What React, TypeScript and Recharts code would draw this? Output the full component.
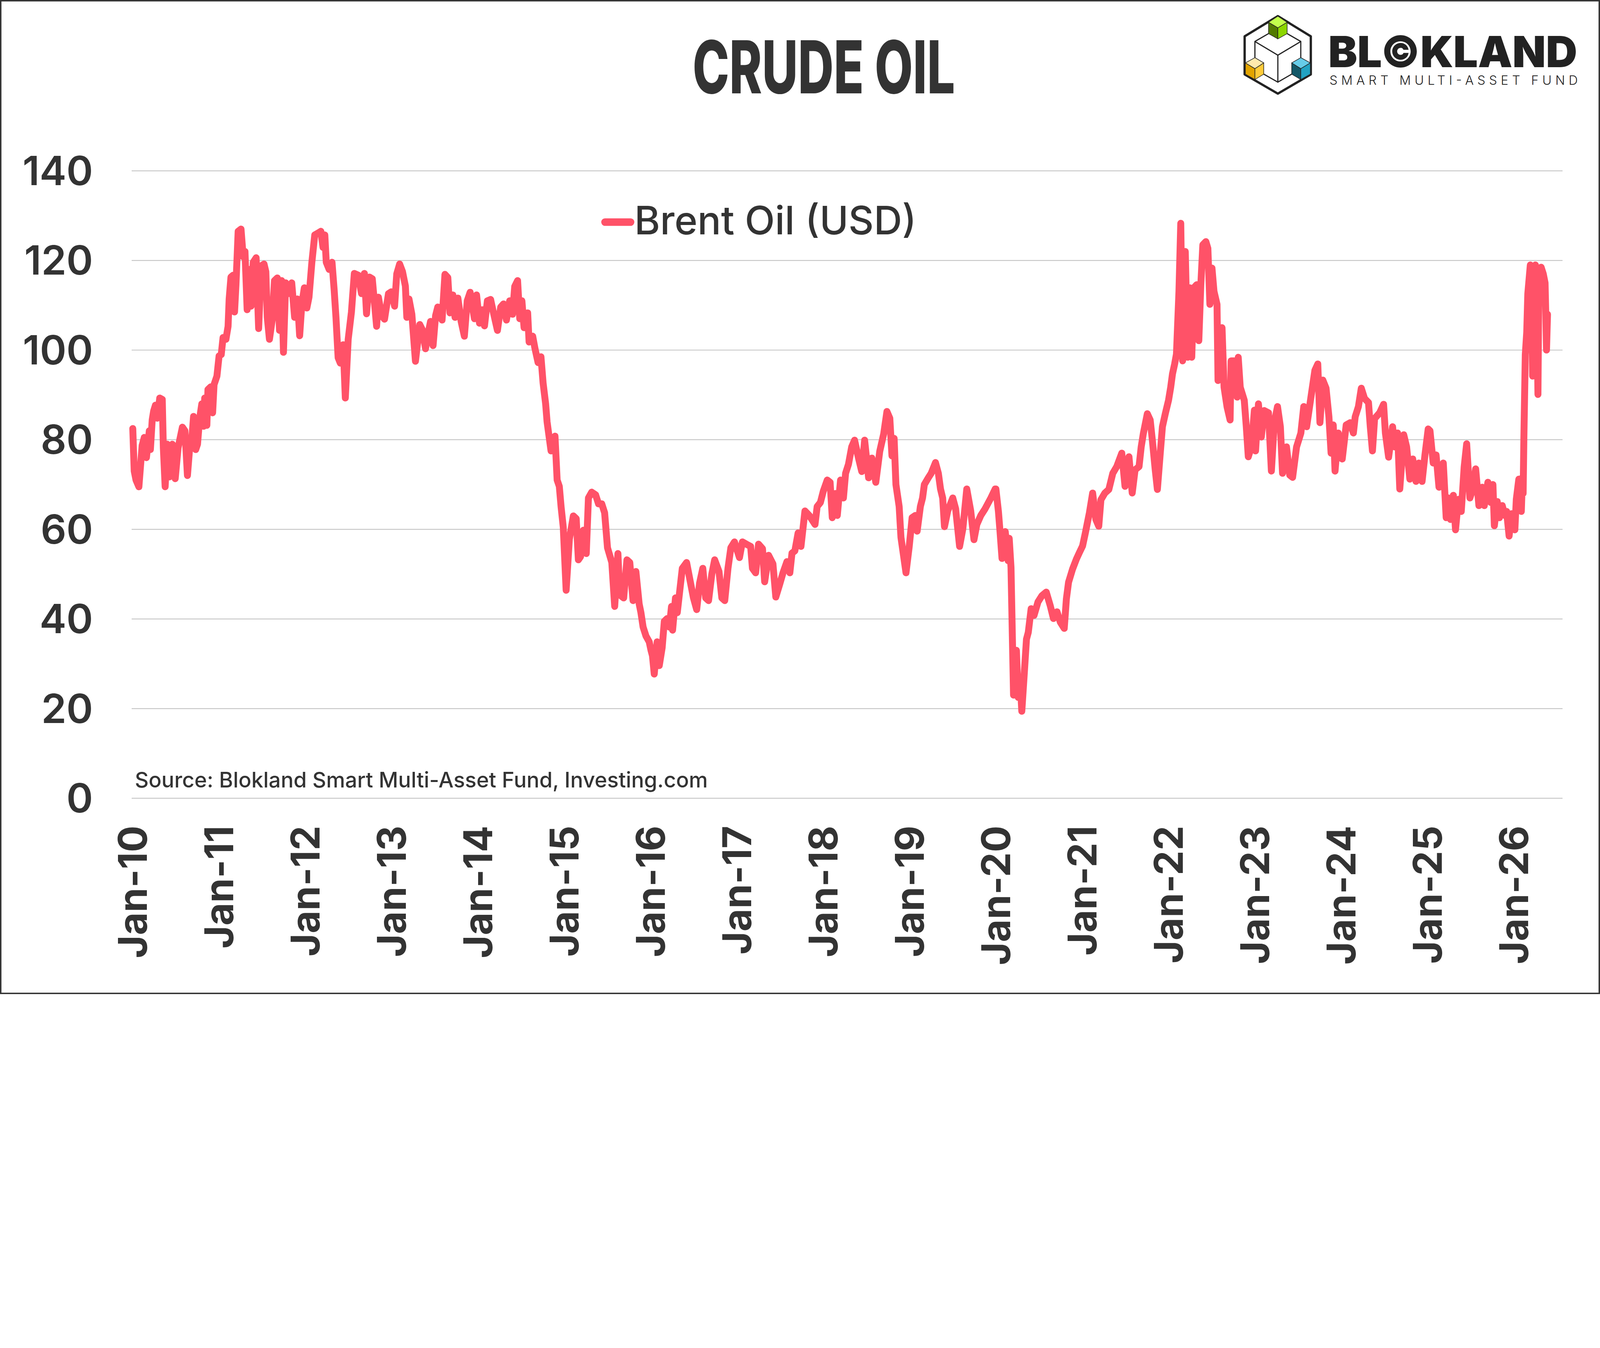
import React from 'react';
import { LineChart, Line, XAxis, YAxis, CartesianGrid, Legend } from 'recharts';

const W = 5554;
const H = 3451;
const FONT = 'Inter, Roboto, "Noto Sans", sans-serif';
const INK = '#333333';
const OIL = '#FF5268';

// Brent closes, as [month within the year, USD]
const y2010 = [
  [0, 82.5], [0.2, 73], [0.45, 71], [0.85, 69.5], [1.3, 78.7], [1.6, 80.5], [1.9, 76], [2.3, 82],
  [2.45, 77.8], [2.7, 84.4], [2.9, 86.4], [3.15, 87.7], [3.4, 84.8], [3.75, 89.3], [4.1, 89], [4.25, 78.2],
  [4.5, 69.5], [4.8, 79], [5.1, 71.7], [5.5, 79], [5.9, 71.3], [6.3, 78.2], [6.9, 82.8], [7.25, 82],
  [7.6, 72], [7.95, 79], [8.2, 80], [8.45, 85.2], [8.75, 77.8], [9.0, 79], [9.3, 84.8], [9.6, 88],
  [9.85, 83], [10.0, 89.3], [10.3, 83.2], [10.45, 91.2], [10.85, 91.8], [11.1, 86], [11.3, 92.3], [11.7, 94.2],
];
const y2011 = [
  [0, 98.7], [0.3, 99], [0.55, 102.8], [0.95, 102.4], [1.25, 105.3], [1.4, 111.4], [1.65, 116.3], [1.95, 116.7],
  [2.15, 108.5], [2.35, 114.7], [2.65, 126.5], [3.05, 127], [3.35, 120.8], [3.6, 122], [3.9, 109], [4.2, 118],
  [4.45, 109.8], [4.75, 119.6], [5.15, 120.6], [5.5, 104.8], [5.85, 118.8], [6.25, 119.2], [6.5, 117.5], [6.7, 107.3],
  [7.0, 102.4], [7.4, 106.9], [7.7, 115.5], [8.1, 116.1], [8.4, 104.4], [8.7, 115.5], [8.95, 99.5], [9.25, 115],
  [9.65, 112.6], [10.1, 115], [10.5, 107.3], [10.9, 111.4], [11.2, 103.2], [11.5, 110.2], [11.85, 113.9],
];
const y2012 = [
  [0.2, 109.4], [0.5, 111.8], [0.9, 119.6], [1.3, 125.7], [1.75, 126.1], [2.15, 126.5], [2.45, 122.9], [2.7, 125.7],
  [2.9, 119.6], [3.3, 118], [3.7, 119.6], [4.0, 113.4], [4.25, 107.3], [4.55, 98.3], [4.85, 97.1], [5.25, 101.2],
  [5.55, 89.3], [5.95, 102.4], [6.4, 108.5], [6.8, 117.1], [7.35, 116.7], [7.8, 112.6], [8.2, 117.1], [8.5, 108.1],
  [8.9, 116.3], [9.3, 115.9], [9.9, 105.3], [10.15, 111.8], [10.6, 107.7], [11.0, 106.9], [11.55, 112.6], [11.95, 113],
];
const y2013 = [
  [0.4, 109.8], [0.7, 117], [1.1, 119.2], [1.5, 117.5], [1.9, 114.3], [2.1, 107.3], [2.4, 111.4], [2.8, 108],
  [3.3, 97.5], [3.7, 103], [3.9, 105.7], [4.3, 104.4], [4.7, 100.3], [5.1, 104], [5.4, 106.4], [5.75, 101],
  [6.1, 107.7], [6.4, 109.6], [7.0, 106.7], [7.4, 116.9], [7.8, 116.2], [8.1, 108.3], [8.5, 112.3], [8.8, 107.3],
  [9.2, 111.6], [9.65, 106.4], [10.1, 103.1], [10.5, 111], [10.9, 112.9], [11.5, 107], [11.8, 112.3],
];
const y2014 = [
  [0.2, 106], [0.6, 109], [0.9, 105.4], [1.3, 111], [1.75, 111.3], [2.15, 108.3], [2.7, 104.4], [3.15, 109.6],
  [3.55, 110.3], [3.95, 106.7], [4.4, 111], [4.8, 108], [5.1, 114.2], [5.5, 115.5], [5.8, 107], [6.1, 111],
  [6.4, 105], [6.9, 108.3], [7.1, 101.8], [7.6, 103.1], [7.9, 100.5], [8.35, 97.2], [8.75, 98.5], [9.05, 92.6],
  [9.4, 88], [9.6, 84], [10.15, 77.5], [10.7, 80.8], [11.0, 71], [11.3, 69.6], [11.55, 65], [11.85, 60.5],
];
const y2015 = [
  [0.25, 46.4], [0.7, 57.8], [1.25, 63], [1.65, 62.4], [1.95, 53.2], [2.25, 53.9], [2.65, 59.8], [3.05, 54.6],
  [3.35, 67], [3.8, 68.3], [4.35, 67.7], [4.75, 65.7], [5.2, 65.7], [5.6, 63.7], [6.0, 55.9], [6.6, 52.6],
  [7.0, 42.8], [7.45, 54.6], [7.7, 45.4], [8.25, 44.7], [8.7, 53.2], [9.1, 52.6], [9.55, 44.1], [9.95, 50.6],
  [10.4, 43.4], [10.65, 41.4], [10.95, 38.2], [11.35, 36.2], [11.8, 34.9],
];
const y2016 = [
  [0.05, 33], [0.25, 31.8], [0.5, 27.7], [0.9, 34.9], [1.2, 29.6], [1.6, 33.6], [1.9, 39.5], [2.3, 40.1],
  [2.6, 38.2], [2.9, 42.8], [3.05, 37.5], [3.45, 44.7], [3.7, 41.4], [4.4, 51.3], [5.0, 52.6], [5.55, 48],
  [5.95, 44.7], [6.4, 42.1], [6.8, 48], [7.25, 51.3], [7.65, 44.7], [8.05, 44.1], [8.5, 50], [8.9, 53.2],
  [9.5, 50.6], [9.9, 44.7], [10.3, 44.1], [10.75, 51.3], [11.15, 55.9], [11.65, 57.2],
];
const y2017 = [
  [0.35, 53.7], [0.75, 57.2], [1.3, 56.7], [1.9, 56.2], [2.15, 51.3], [2.6, 50.3], [3.0, 56.7], [3.55, 55.7],
  [3.85, 48.3], [4.4, 54.2], [5.0, 52.3], [5.4, 44.9], [5.95, 47.8], [6.4, 50.3], [6.95, 52.8], [7.35, 50.3],
  [7.65, 54.7], [8.05, 55.2], [8.5, 59.2], [8.9, 56.2], [9.45, 64.1], [10.05, 63.1], [10.85, 61.1], [11.15, 65.1],
  [11.6, 66],
];
const y2018 = [
  [0.0, 68.5], [0.55, 71], [0.95, 70.5], [1.25, 62.6], [1.7, 68], [1.95, 63.1], [2.4, 71], [2.8, 67],
  [3.1, 72.5], [3.5, 74.5], [3.95, 78.4], [4.35, 79.9], [4.9, 75.9], [5.35, 72.9], [5.75, 79.9], [6.3, 71.5],
  [6.75, 75.9], [7.3, 70.5], [7.85, 77.4], [8.4, 81.3], [8.85, 86.3], [9.25, 84.8], [9.55, 76.4], [9.85, 80.3],
  [10.1, 70], [10.55, 65.1], [10.8, 58.2], [11.5, 50.3], [11.95, 56.2],
];
const y2019 = [
  [0.35, 62.6], [0.8, 63.1], [1.05, 59.6], [1.5, 65.1], [1.8, 67], [2.05, 70], [2.6, 71.5], [3.0, 72.5],
  [3.6, 74.9], [4.0, 72.5], [4.3, 69], [4.6, 67], [4.85, 60.6], [5.3, 64.1], [6.0, 67], [6.4, 64.6],
  [6.95, 56.2], [7.4, 60.1], [7.95, 69], [8.5, 64.1], [8.95, 57.7], [9.35, 61.1], [9.9, 63.1], [10.5, 64.6],
  [11.3, 67], [11.9, 69],
];
const y2020 = [
  [0.0, 69], [0.35, 64], [0.55, 60], [0.85, 53.5], [1.3, 59.5], [1.7, 53], [1.85, 58], [2.1, 51.5],
  [2.3, 35], [2.45, 23], [2.65, 26], [2.85, 33], [3.1, 22.5], [3.35, 27], [3.6, 19.4], [3.95, 28],
  [4.25, 35.5], [4.5, 37], [4.9, 42.3], [5.3, 40.8], [5.85, 43.8], [6.4, 45.2], [7.0, 46], [7.55, 43],
  [8.0, 40.1], [8.5, 41.6], [8.95, 39.3], [9.5, 37.9], [9.8, 44.5], [10.1, 48.2], [10.65, 51.1], [11.2, 53.4],
  [11.6, 54.8],
];
const y2021 = [
  [0.05, 56.3], [0.45, 59.3], [1.0, 63.7], [1.45, 68.1], [1.9, 62.2], [2.3, 60.7], [2.6, 66.6], [3.15, 68.1],
  [3.7, 68.9], [4.25, 72.5], [4.8, 74], [5.5, 77], [5.95, 69.6], [6.5, 76.2], [6.95, 68.1], [7.35, 73.3],
  [7.9, 74], [8.2, 78.4], [8.5, 81.4], [9.05, 85.8], [9.45, 84.4], [9.75, 79.9], [10.15, 73.3], [10.45, 68.9],
  [10.85, 77], [11.15, 82.9], [11.55, 85.8],
];
const y2022 = [
  [0.0, 88.8], [0.3, 91.7], [0.55, 94.7], [0.85, 96.9], [1.1, 99.1], [1.45, 113.1], [1.7, 128.3], [1.96, 97.6],
  [2.33, 122], [2.66, 98.4], [2.94, 113.9], [3.23, 98.4], [3.51, 113.9], [3.93, 114.6], [4.21, 102.1], [4.49, 114.6],
  [4.77, 123.5], [5.19, 124.2], [5.47, 122.7], [5.75, 110.2], [6.04, 118.3], [6.32, 113.1], [6.74, 110.2], [6.88, 93.2],
  [7.3, 99.1], [7.44, 105], [7.72, 91.7], [8.14, 87.3], [8.56, 84.4], [8.7, 97.6], [9.13, 97.6], [9.55, 89.5],
  [9.69, 98.4], [9.97, 91.7], [10.53, 88.8], [10.81, 82.9], [11.09, 76.2], [11.51, 78.4], [11.94, 86.6],
];
const y2023 = [
  [0.0, 82], [0.1, 77.5], [0.5, 88], [0.9, 80.6], [1.3, 86.5], [1.9, 86], [2.3, 73], [2.7, 83.8],
  [3.15, 87.4], [3.55, 82.9], [3.85, 72.5], [4.4, 78.4], [4.85, 72.1], [5.25, 71.6], [5.8, 78.4], [6.4, 81.5],
  [6.8, 87.4], [7.2, 82.9], [7.9, 90.6], [8.35, 95.5], [8.75, 96.9], [9.05, 83.8], [9.45, 93.3], [9.9, 91.5],
  [10.3, 85.1], [10.6, 77], [10.9, 83.3], [11.15, 73], [11.6, 81.5],
];
const y2024 = [
  [0.15, 75.7], [0.7, 83.3], [1.25, 83.8], [1.7, 81.5], [1.95, 85.1], [2.4, 87.4], [2.8, 91.5], [3.25, 89.2],
  [3.8, 88.3], [4.05, 82.9], [4.35, 77.5], [4.65, 84.7], [5.35, 86], [5.9, 87.9], [6.15, 81.5], [6.6, 76.1],
  [7.15, 82.9], [7.45, 78.4], [7.85, 81.5], [8.15, 69], [8.7, 81.1], [9.1, 78.4], [9.55, 71.2], [9.95, 75.7],
  [10.4, 70.7], [10.8, 74.8], [11.25, 70.7], [11.65, 76.6],
];
const y2025 = [
  [0.1, 82.4], [0.35, 82], [0.8, 74.8], [1.2, 76.6], [1.6, 69.4], [2.2, 74.8], [2.6, 62.6], [2.9, 67],
  [3.2, 62.2], [3.6, 67.6], [3.9, 59.9], [4.3, 66.7], [4.7, 64], [5.1, 73.9], [5.45, 79.1], [5.9, 67],
  [6.3, 69], [6.7, 73.5], [7.15, 65.3], [7.6, 69.4], [7.9, 65.3], [8.4, 70.5], [8.8, 66], [9.1, 70],
  [9.3, 60.8], [9.7, 66.2], [10.0, 62.6], [10.4, 65.3], [10.75, 63.1], [11.0, 64], [11.35, 58.5], [11.7, 63.5],
];
const y2026 = [
  [0.15, 59.9], [0.35, 66.7], [0.7, 71.2], [1.05, 64], [1.2, 71.6], [1.3, 68], [1.4, 80], [1.6, 99],
  [1.8, 104], [1.95, 112.6], [2.3, 119], [2.45, 117], [2.62, 94.2], [2.8, 112], [3.0, 119], [3.2, 110],
  [3.36, 90.1], [3.5, 118], [3.8, 118.5], [4.1, 117], [4.35, 115], [4.45, 108], [4.55, 100], [4.69, 108],
];

const years: [number, number[][]][] = [
  [2010, y2010], [2011, y2011], [2012, y2012], [2013, y2013], [2014, y2014], [2015, y2015],
  [2016, y2016], [2017, y2017], [2018, y2018], [2019, y2019], [2020, y2020], [2021, y2021],
  [2022, y2022], [2023, y2023], [2024, y2024], [2025, y2025], [2026, y2026],
];

const yTicks = [0, 20, 40, 60, 80, 100, 120, 140];
const xTicks = years.map(([y]) => y);
const xLabel = (t: number) => `Jan-${String(t % 100).padStart(2, '0')}`;

const data = years.flatMap(([year, pts]) => pts.map(([m, v]) => ({ t: year + m / 12, brent: v })));

function XTick({ x, y, payload }: any) {
  return (
    <text
      transform={`translate(${x},${y + 95}) rotate(-90)`}
      textAnchor="end"
      dy="0.36em"
      fontFamily={FONT}
      fontSize={137}
      fontWeight={700}
      fill={INK}
    >
      {xLabel(payload.value)}
    </text>
  );
}

function LegendBox({ payload }: any) {
  const item = payload && payload[0];
  if (!item) return null;
  return (
    <svg width={1250} height={170} style={{ display: 'block' }}>
      <line x1={40} x2={129} y1={91} y2={91} stroke={item.color} strokeWidth={26} strokeLinecap="round" />
      <text x={142} y={134} fontFamily={FONT} fontSize={136} fontWeight={500} fill={INK}>
        {item.value}
      </text>
    </svg>
  );
}

function Logo() {
  return (
    <g>
      <svg x={4250} y={20} width={1300} height={330} viewBox="0 0 1568 990" preserveAspectRatio="none" overflow="visible">
        <polygon
          points="224,108 362,318 362,715 224,915 85,715 85,318"
          fill="none" stroke="#222" strokeWidth={8} vectorEffect="non-scaling-stroke" strokeLinejoin="round"
        />
        <g fill="none" stroke="#222" strokeWidth={4}>
          <polyline points="185,290 128,372 128,540" vectorEffect="non-scaling-stroke" />
          <polyline points="263,290 320,372 320,540" vectorEffect="non-scaling-stroke" />
          <polyline points="128,372 224,515 320,372" vectorEffect="non-scaling-stroke" />
          <polyline points="224,515 224,795" vectorEffect="non-scaling-stroke" />
          <polyline points="165,712 224,795 282,712" vectorEffect="non-scaling-stroke" />
        </g>
        <g stroke="#222" strokeWidth={2}>
          <polygon points="224,108 263,172 224,230 185,172" fill="#C3FF4C" vectorEffect="non-scaling-stroke" />
          <polygon points="185,172 224,230 224,345 185,290" fill="#527A00" vectorEffect="non-scaling-stroke" />
          <polygon points="224,230 263,172 263,290 224,345" fill="#8CD600" vectorEffect="non-scaling-stroke" />
          <polygon points="128,540 165,595 128,655 88,595" fill="#FFE9AD" vectorEffect="non-scaling-stroke" />
          <polygon points="88,595 128,655 128,768 88,712" fill="#E2A400" vectorEffect="non-scaling-stroke" />
          <polygon points="128,655 165,595 165,712 128,768" fill="#FFCB3A" vectorEffect="non-scaling-stroke" />
          <polygon points="320,540 360,595 320,655 282,595" fill="#66CCE8" vectorEffect="non-scaling-stroke" />
          <polygon points="282,595 320,655 320,768 282,712" fill="#135868" vectorEffect="non-scaling-stroke" />
          <polygon points="320,655 360,595 360,712 320,768" fill="#22A2C2" vectorEffect="non-scaling-stroke" />
        </g>
      </svg>
      <text x={4611} y={233} fontFamily={FONT} fontSize={150} fontWeight={900} fill="#222"
        textLength={864} lengthAdjust="spacingAndGlyphs">BL©KLAND</text>
      <text x={4615} y={294} fontFamily={FONT} fontSize={44} fontWeight={300} fill="#222"
        textLength={862} lengthAdjust="spacing">SMART MULTI-ASSET FUND</text>
    </g>
  );
}

export default function App() {
  // the window may report fewer CSS pixels than device pixels, so fit the drawing to its width
  const vw = typeof window !== 'undefined' && window.innerWidth ? window.innerWidth : W;
  const s = vw / W;
  return (
    <div style={{ position: 'absolute', left: 0, top: 0, width: W * s, height: H * s, overflow: 'hidden' }}>
      <div style={{ position: 'absolute', left: 0, top: 0, width: W, height: H, background: '#fff', transform: `scale(${s})`, transformOrigin: '0 0' }}>
        <LineChart width={W} height={H} data={data} margin={{ top: 593, right: 130, bottom: 0, left: 0 }}>
          <CartesianGrid vertical={false} stroke="#C4C4C4" strokeWidth={3} />
          <XAxis
            dataKey="t"
            type="number"
            domain={[2009.987, 2026.565]}
            ticks={xTicks}
            tick={<XTick />}
            interval={0}
            height={680}
            axisLine={false}
            tickLine={false}
            tickSize={0}
            tickMargin={0}
          />
          <YAxis
            domain={[0, 140]}
            ticks={yTicks}
            width={457}
            axisLine={false}
            tickLine={false}
            tickSize={0}
            tickMargin={134}
            tick={{ fontFamily: FONT, fontSize: 140, fontWeight: 600, fill: INK }}
          />
          <Legend
            layout="horizontal"
            verticalAlign="middle"
            align="center"
            width={1250}
            height={170}
            wrapperStyle={{ left: 2060, top: 680, width: 1250, height: 170 }}
            content={<LegendBox />}
          />
          <Line
            type="linear"
            dataKey="brent"
            name="Brent Oil (USD)"
            stroke={OIL}
            strokeWidth={24}
            strokeLinejoin="round"
            strokeLinecap="round"
            dot={false}
            activeDot={false}
            isAnimationActive={false}
          />
        </LineChart>
        <svg width={W} height={H} style={{ position: 'absolute', left: 0, top: 0, pointerEvents: 'none' }}>
          <text x={2404} y={324} fontFamily={FONT} fontSize={254} fontWeight={800} fill={INK}
            textLength={911} lengthAdjust="spacingAndGlyphs">CRUDE OIL</text>
          <text x={468} y={2733} fontFamily={FONT} fontSize={74} fontWeight={500} fill={INK}>
            Source: Blokland Smart Multi-Asset Fund, Investing.com
          </text>
          <Logo />
        </svg>
        <div style={{ position: 'absolute', left: 0, top: 0, width: W, height: H, boxSizing: 'border-box', border: '5px solid #333', pointerEvents: 'none' }} />
      </div>
    </div>
  );
}
